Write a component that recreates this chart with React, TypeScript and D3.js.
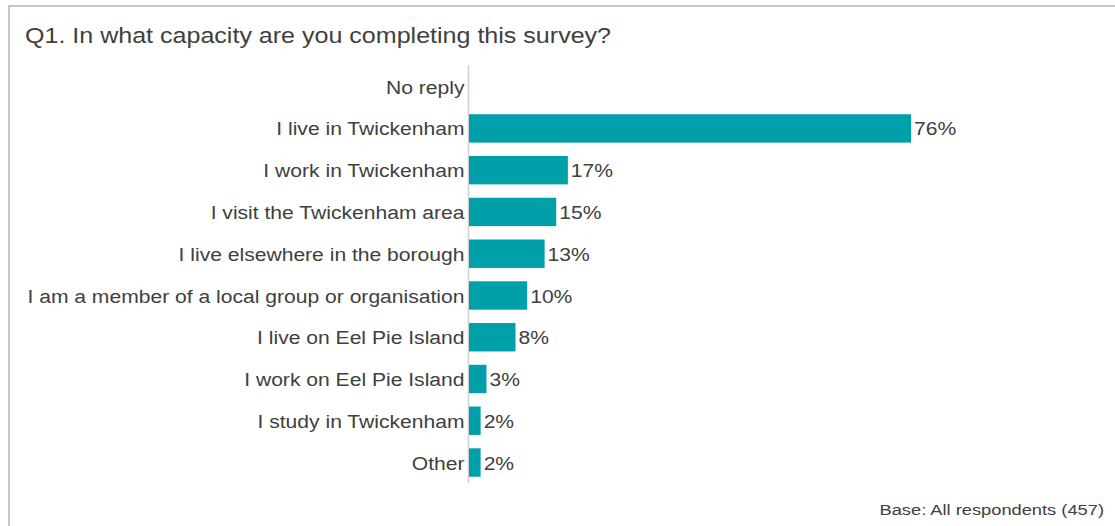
import React from "react";
import * as d3 from "d3";

const categories = [
  "No reply",
  "I live in Twickenham",
  "I work in Twickenham",
  "I visit the Twickenham area",
  "I live elsewhere in the borough",
  "I am a member of a local group or organisation",
  "I live on Eel Pie Island",
  "I work on Eel Pie Island",
  "I study in Twickenham",
  "Other",
];
const values: (number | null)[] = [null, 76, 17, 15, 13, 10, 8, 3, 2, 2];
const title = "Q1. In what capacity are you completing this survey?";
const footnote = "Base: All respondents (457)";

const W = 1115;
const H = 526;
const FONT = "'Liberation Sans', Arial, sans-serif";
const TEXT = "#404040";
const BAR = "#00A0AA";
const SX = 1.11;

export default function App() {
  const x = d3.scaleLinear().domain([0, 100]).range([469, 1050.6]);
  const y = d3
    .scaleBand<string>()
    .domain(categories)
    .range([65.8, 483.4])
    .paddingInner(0.32)
    .paddingOuter(0.16);
  return (
    <svg width={W} height={H} style={{ position: "absolute", left: 0, top: 0 }} fontFamily={FONT}>
      <rect x={0} y={0} width={W} height={H} fill="#fff" />
      <line x1={9} x2={9} y1={5} y2={H} stroke="#c6c6c6" strokeWidth={2} />
      <line x1={8} x2={W} y1={6} y2={6} stroke="#c6c6c6" strokeWidth={2} />
      <text transform={`translate(25,43.3) scale(1.114,1)`} fontSize={22.5} fill={TEXT}>
        {title}
      </text>
      <line x1={468.5} x2={468.5} y1={65} y2={483} stroke="#d0d0d0" strokeWidth={1.5} />
      {categories.map((c, i) => {
        const yc = (y(c) as number) + y.bandwidth() / 2;
        const v = values[i];
        return (
          <g key={c}>
            <text
              transform={`translate(464.5,${yc}) scale(${SX},1)`}
              dy="0.37em"
              textAnchor="end"
              fontSize={19}
              fill={TEXT}
            >
              {c}
            </text>
            {v != null && (
              <>
                <rect x={x(0)} y={y(c)} width={x(v) - x(0)} height={y.bandwidth()} fill={BAR} />
                <text
                  transform={`translate(${x(v) + 3},${yc}) scale(${SX},1)`}
                  dy="0.37em"
                  fontSize={19}
                  fill={TEXT}
                >{`${v}%`}</text>
              </>
            )}
          </g>
        );
      })}
      <text transform={`translate(1104,515) scale(1.18,1)`} textAnchor="end" fontSize={15.5} fill={TEXT}>
        {footnote}
      </text>
    </svg>
  );
}
